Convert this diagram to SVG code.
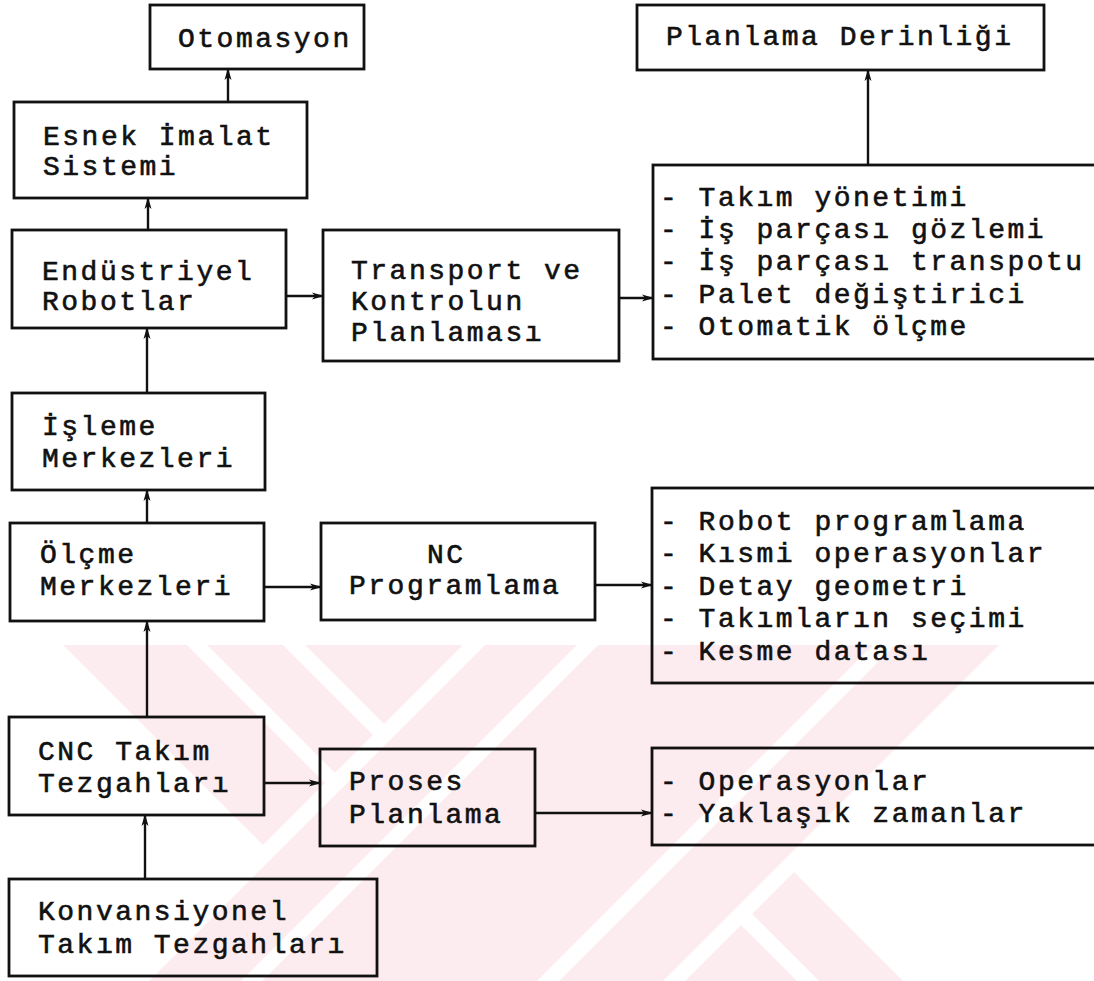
<svg xmlns="http://www.w3.org/2000/svg" width="1094" height="981" viewBox="0 0 1094 981">
  <style>
    .box { fill: none; stroke: #111; stroke-width: 2.8; }
    .t { font-family: "Liberation Mono", "DejaVu Sans Mono", monospace; font-size: 28px; letter-spacing: 2.5px; fill: #111; stroke: #111; stroke-width: 0.6; }
    .link { fill: none; stroke: #111; stroke-width: 2.4; marker-end: url(#head); }
    .wm { fill: #fdecef; }
    .gap { fill: #ffffff; }
  </style>
  <defs>
    <marker id="head" viewBox="0 0 12 8" refX="11" refY="4" markerWidth="12" markerHeight="8" markerUnits="userSpaceOnUse" orient="auto">
      <path d="M0,0.5 L12,4 L0,7.5 L3,4 z" fill="#111"/>
    </marker>
    <clipPath id="wmclip">
      <rect x="0" y="645" width="1094" height="336"/>
    </clipPath>
  </defs>
  <rect width="1094" height="981" fill="#ffffff"/>

  <!-- faint striped emblem in the lower half of the page -->
  <g id="emblem" clip-path="url(#wmclip)">
    <polygon class="wm" points="63,645 567,645 903,981 399,981"/>
    <polygon class="gap" points="187,645 207,645 543,981 523,981"/>
    <polygon class="gap" points="283,645 305,645 641,981 619,981"/>
    <polygon class="gap" points="461,645 483,645 819,981 797,981"/>
    <polygon class="gap" points="463,645 1021,645 685,981 127,981"/>
    <polygon class="wm" points="485,645 999,645 663,981 149,981"/>
    <polygon class="gap" points="577,645 598,645 262,981 241,981"/>
    <polygon class="gap" points="873,645 895,645 559,981 537,981"/>
  </g>

  <g id="connectors">
    <line class="link" x1="228" y1="102" x2="228" y2="69"/>
    <line class="link" x1="148" y1="230" x2="148" y2="198"/>
    <line class="link" x1="147" y1="393" x2="147" y2="328"/>
    <line class="link" x1="147" y1="523" x2="147" y2="490"/>
    <line class="link" x1="147" y1="717" x2="147" y2="621"/>
    <line class="link" x1="145" y1="879" x2="145" y2="815"/>
    <line class="link" x1="286" y1="296" x2="323" y2="296"/>
    <line class="link" x1="619" y1="298" x2="653" y2="298"/>
    <line class="link" x1="868" y1="165" x2="868" y2="70"/>
    <line class="link" x1="264" y1="587" x2="321" y2="587"/>
    <line class="link" x1="595" y1="585" x2="652" y2="585"/>
    <line class="link" x1="264" y1="783" x2="320" y2="783"/>
    <line class="link" x1="535" y1="813" x2="652" y2="813"/>
  </g>

  <g id="otomasyon">
    <rect class="box" x="150" y="5" width="214" height="64"/>
    <text class="t" x="178" y="47">Otomasyon</text>
  </g>
  <g id="planlama-derinligi">
    <rect class="box" x="637" y="5" width="407" height="65"/>
    <text class="t" x="666" y="45">Planlama Derinliği</text>
  </g>
  <g id="esnek-imalat">
    <rect class="box" x="14" y="102" width="293" height="96"/>
    <text class="t" x="43" y="145">Esnek İmalat</text>
    <text class="t" x="43" y="175">Sistemi</text>
  </g>
  <g id="endustriyel-robotlar">
    <rect class="box" x="12" y="230" width="274" height="98"/>
    <text class="t" x="42" y="280">Endüstriyel</text>
    <text class="t" x="42" y="310">Robotlar</text>
  </g>
  <g id="transport-kontrol">
    <rect class="box" x="323" y="230" width="296" height="131"/>
    <text class="t" x="351" y="279">Transport ve</text>
    <text class="t" x="351" y="310">Kontrolun</text>
    <text class="t" x="351" y="341">Planlaması</text>
  </g>
  <g id="liste-transport">
    <rect class="box" x="653" y="165" width="460" height="194"/>
    <text class="t" x="660" y="206">- Takım yönetimi</text>
    <text class="t" x="660" y="238">- İş parçası gözlemi</text>
    <text class="t" x="660" y="270">- İş parçası transpotu</text>
    <text class="t" x="660" y="303">- Palet değiştirici</text>
    <text class="t" x="660" y="335">- Otomatik ölçme</text>
  </g>
  <g id="isleme-merkezleri">
    <rect class="box" x="12" y="393" width="253" height="97"/>
    <text class="t" x="42" y="435">İşleme</text>
    <text class="t" x="42" y="467">Merkezleri</text>
  </g>
  <g id="olcme-merkezleri">
    <rect class="box" x="10" y="523" width="254" height="98"/>
    <text class="t" x="40" y="563">Ölçme</text>
    <text class="t" x="40" y="595">Merkezleri</text>
  </g>
  <g id="nc-programlama">
    <rect class="box" x="321" y="523" width="274" height="97"/>
    <text class="t" x="427" y="563">NC</text>
    <text class="t" x="349" y="594">Programlama</text>
  </g>
  <g id="liste-nc">
    <rect class="box" x="652" y="488" width="460" height="195"/>
    <text class="t" x="660" y="530">- Robot programlama</text>
    <text class="t" x="660" y="562">- Kısmi operasyonlar</text>
    <text class="t" x="660" y="595">- Detay geometri</text>
    <text class="t" x="660" y="627">- Takımların seçimi</text>
    <text class="t" x="660" y="660">- Kesme datası</text>
  </g>
  <g id="cnc-tezgahlari">
    <rect class="box" x="9" y="717" width="255" height="98"/>
    <text class="t" x="38" y="760">CNC Takım</text>
    <text class="t" x="38" y="792">Tezgahları</text>
  </g>
  <g id="proses-planlama">
    <rect class="box" x="320" y="749" width="215" height="97"/>
    <text class="t" x="349" y="790">Proses</text>
    <text class="t" x="349" y="823">Planlama</text>
  </g>
  <g id="liste-proses">
    <rect class="box" x="652" y="748" width="460" height="97"/>
    <text class="t" x="660" y="790">- Operasyonlar</text>
    <text class="t" x="660" y="822">- Yaklaşık zamanlar</text>
  </g>
  <g id="konvansiyonel">
    <rect class="box" x="9" y="879" width="368" height="97"/>
    <text class="t" x="38" y="920">Konvansiyonel</text>
    <text class="t" x="38" y="953">Takım Tezgahları</text>
  </g>
</svg>
